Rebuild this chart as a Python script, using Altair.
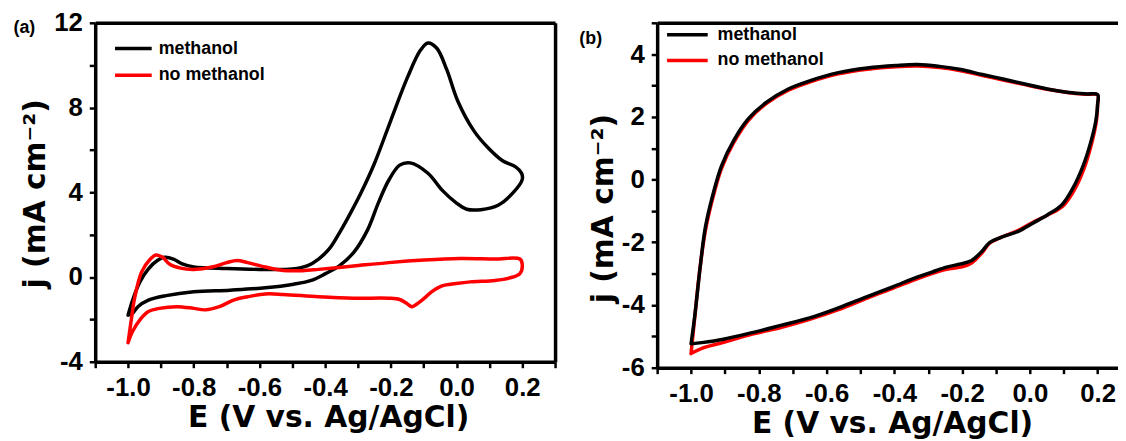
import altair as alt
import pandas as pd

# ---------------- data ----------------
SERIES = ["methanol", "no methanol"]
COLORS = ["#000000", "#ff0000"]

# panel (a): methanol (black)
A_METH_E = [-1.000, -0.986, -0.964, -0.938, -0.911, -0.889, -0.862, -0.835, -0.800, -0.700,
            -0.600, -0.500, -0.453, -0.420, -0.389, -0.356, -0.320, -0.290, -0.250, -0.200,
            -0.150, -0.110, -0.087, -0.060, -0.030, 0.004, 0.053, 0.096, 0.139, 0.180,
            0.198, 0.200, 0.171, 0.128, 0.074, 0.031, -0.001, -0.044, -0.087, -0.141,
            -0.173, -0.206, -0.238, -0.270, -0.313, -0.356, -0.400, -0.442, -0.496, -0.582,
            -0.690, -0.800, -0.884, -0.938, -0.970, -0.986, -1.000]
A_METH_J = [-1.80, -1.09, -0.23, 0.39, 0.78, 0.93, 0.85, 0.62, 0.48, 0.40,
            0.36, 0.38, 0.54, 0.85, 1.30, 2.10, 3.10, 4.00, 5.36, 7.40,
            9.40, 10.70, 11.05, 10.80, 9.80, 8.30, 6.90, 6.10, 5.50, 5.20,
            4.90, 4.60, 3.96, 3.40, 3.18, 3.20, 3.50, 4.10, 4.90, 5.39,
            5.28, 4.58, 3.50, 2.25, 1.16, 0.54, 0.15, -0.16, -0.34, -0.51,
            -0.62, -0.70, -0.88, -1.09, -1.40, -1.71, -1.80]

# panel (a): no methanol (red)
A_NOMETH_E = [-1.000, -0.990, -0.980, -0.959, -0.932, -0.915, -0.895, -0.873, -0.840, -0.800,
              -0.744, -0.700, -0.668, -0.636, -0.582, -0.528, -0.470, -0.420, -0.313, -0.206,
              -0.098, 0.010, 0.117, 0.193, 0.200, 0.193, 0.160, 0.117, 0.042, -0.001,
              -0.044, -0.076, -0.098, -0.125, -0.136, -0.152, -0.173, -0.206, -0.313, -0.420,
              -0.528, -0.582, -0.636, -0.679, -0.722, -0.765, -0.800, -0.851, -0.905, -0.938,
              -0.964, -0.986, -1.000]
A_NOMETH_J = [-3.10, -2.00, -1.00, 0.23, 0.85, 1.04, 0.93, 0.60, 0.42, 0.36,
              0.47, 0.68, 0.78, 0.68, 0.47, 0.31, 0.30, 0.36, 0.52, 0.68,
              0.80, 0.87, 0.85, 0.85, 0.60, 0.16, -0.05, -0.16, -0.23, -0.31,
              -0.42, -0.70, -1.00, -1.32, -1.40, -1.24, -1.06, -1.00, -1.00, -0.93,
              -0.82, -0.80, -0.93, -1.09, -1.40, -1.55, -1.48, -1.40, -1.48, -1.63,
              -2.02, -2.56, -3.10]

# panel (b): methanol (black)
B_METH_E = [-1.000, -0.989, -0.973, -0.958, -0.936, -0.910, -0.873, -0.830, -0.777, -0.713,
            -0.650, -0.565, -0.480, -0.395, -0.331, -0.267, -0.204, -0.140, -0.076, -0.012,
            0.051, 0.115, 0.168, 0.200, 0.200, 0.195, 0.179, 0.157, 0.126, 0.094,
            0.051, 0.009, -0.034, -0.087, -0.119, -0.140, -0.172, -0.204, -0.246, -0.289,
            -0.331, -0.405, -0.480, -0.565, -0.650, -0.735, -0.819, -0.904, -0.968, -1.000]
B_METH_J = [-5.24, -4.35, -2.79, -1.54, -0.50, 0.44, 1.27, 1.95, 2.47, 2.89,
            3.15, 3.41, 3.56, 3.64, 3.67, 3.61, 3.51, 3.35, 3.20, 3.04,
            2.89, 2.78, 2.73, 2.71, 2.42, 1.90, 1.17, 0.44, -0.29, -0.81,
            -1.13, -1.39, -1.65, -1.85, -2.01, -2.27, -2.58, -2.69, -2.79, -2.95,
            -3.10, -3.42, -3.73, -4.09, -4.41, -4.65, -4.88, -5.09, -5.20, -5.24]

# panel (b): no methanol (red)
B_NOMETH_E = [-1.000, -0.990, -0.975, -0.958, -0.936, -0.910, -0.873, -0.830, -0.777, -0.713,
              -0.650, -0.565, -0.480, -0.395, -0.331, -0.267, -0.204, -0.140, -0.076, -0.012,
              0.051, 0.115, 0.168, 0.200, 0.200, 0.196, 0.181, 0.160, 0.130, 0.097,
              0.053, 0.009, -0.034, -0.087, -0.119, -0.140, -0.172, -0.204, -0.246, -0.289,
              -0.331, -0.405, -0.480, -0.565, -0.650, -0.735, -0.819, -0.904, -0.968, -1.000]
B_NOMETH_J = [-5.55, -4.50, -2.95, -1.65, -0.60, 0.36, 1.20, 1.90, 2.43, 2.85,
              3.11, 3.37, 3.52, 3.60, 3.62, 3.57, 3.47, 3.32, 3.17, 3.02,
              2.88, 2.77, 2.72, 2.70, 2.40, 1.85, 1.10, 0.36, -0.35, -0.85,
              -1.13, -1.36, -1.62, -1.85, -2.03, -2.32, -2.66, -2.79, -2.86, -3.00,
              -3.16, -3.47, -3.78, -4.15, -4.46, -4.72, -4.93, -5.19, -5.38, -5.55]

# axis tick positions
A_X_TICKS = [-1.1, -1.0, -0.9, -0.8, -0.7, -0.6, -0.5, -0.4, -0.3, -0.2, -0.1, 0.0, 0.1, 0.2, 0.3]
A_Y_TICKS = [-4, -2, 0, 2, 4, 6, 8, 10, 12]
B_X_TICKS = [-1.1, -1.0, -0.9, -0.8, -0.7, -0.6, -0.5, -0.4, -0.3, -0.2, -0.1, 0.0, 0.1, 0.2]
B_Y_TICKS = [-6, -5, -4, -3, -2, -1, 0, 1, 2, 3, 4, 5]

X_TITLE = "E (V vs. Ag/AgCl)"
Y_TITLE = "j (mA cm\u207b\u00b2)"
FONT = "Liberation Sans"
TFONT = "DejaVu Sans"


def series_frame(E, J, name):
    return pd.DataFrame({"E": E, "j": J, "series": name, "i": list(range(len(E)))})


X_EXPR = ("abs(round(datum.value*10)) % 2 == 0 ? "
          "(datum.value < -0.001 ? '-' + format(-datum.value, '.1f') : format(abs(datum.value), '.1f')) : ''")


def y_expr(step):
    return (f"datum.value % {step} == 0 ? "
            "(datum.value < 0 ? '-' + format(-datum.value, 'd') : format(datum.value, 'd')) : ''")


def panel(df, xdom, ydom, xticks, yticks, ystep, w, h, label, lab_x, lab_y,
          xt_x, yt_y, lx, ly, lsize, loff, lrow, right_border):
    xs = alt.Scale(domain=xdom, nice=False, zero=False)
    ys = alt.Scale(domain=ydom, nice=False, zero=False)
    color = alt.Color(
        "series:N",
        scale=alt.Scale(domain=SERIES, range=COLORS),
        legend=alt.Legend(
            title=None, orient="none", legendX=lx, legendY=ly,
            symbolType="stroke", symbolSize=lsize, symbolStrokeWidth=3.5,
            clipHeight=20, rowPadding=lrow, labelOffset=loff, padding=0,
            labelFont=FONT, labelFontSize=18, labelFontWeight="bold", labelColor="black",
        ),
    )
    lines = alt.Chart(df).mark_line(
        strokeWidth=3.5, interpolate="catmull-rom", strokeJoin="round", strokeCap="round"
    ).encode(
        x=alt.X("E:Q", scale=xs, axis=alt.Axis(values=xticks, labelExpr=X_EXPR, title=X_TITLE,
                                               orient="bottom", titleX=xt_x, titlePadding=2)),
        y=alt.Y("j:Q", scale=ys, axis=alt.Axis(values=yticks, labelExpr=y_expr(ystep), title=Y_TITLE,
                                               orient="left", titleY=yt_y, titlePadding=3)),
        color=color,
        order=alt.Order("i:Q"),
    )
    yb = alt.Axis(orient="right", labels=False, ticks=False, title=None) if right_border else None
    border = alt.Chart(df).mark_line(strokeOpacity=0).encode(
        x=alt.X("E:Q", scale=xs, axis=alt.Axis(
            orient="top", labels=False, ticks=False, title=label,
            titleX=lab_x, titleY=lab_y, titleAlign="left", titleBaseline="top", titleAngle=0,
            titleFont=FONT, titleFontSize=18, titleFontWeight="bold")),
        y=alt.Y("j:Q", scale=ys, axis=yb),
        detail="series:N",
        order=alt.Order("i:Q"),
    )
    return alt.layer(lines, border).resolve_axis(x="independent", y="independent").properties(
        width=w, height=h,
    )


df_a = pd.concat([series_frame(A_METH_E, A_METH_J, SERIES[0]),
                  series_frame(A_NOMETH_E, A_NOMETH_J, SERIES[1])], ignore_index=True)
df_b = pd.concat([series_frame(B_NOMETH_E, B_NOMETH_J, SERIES[1]),
                  series_frame(B_METH_E, B_METH_J, SERIES[0])], ignore_index=True)

pa = panel(df_a, [-1.1, 0.3], [-4, 12], A_X_TICKS, A_Y_TICKS, 4, 464, 342, "(a)", -83, -4,
           235, 172, 18, 16, 1369, 5, 7, True)
pb = panel(df_b, [-1.1, 0.26], [-6, 5], B_X_TICKS, B_Y_TICKS, 2, 465, 348, "(b)", -79, 7,
           237, 187, 8, 2, 1681, 8, 6, False)

chart = alt.hconcat(pa, pb, spacing=22).resolve_scale(color="independent").properties(
    padding={"left": 5, "top": 0, "right": 0, "bottom": 0}
).configure_view(stroke=None).configure_axis(
    grid=False, domainColor="black", domainWidth=3.5, tickColor="black", tickWidth=2.5,
    tickSize=6, labelFont=FONT, labelFontWeight="bold", labelFontSize=26, labelColor="black",
    labelPadding=7, titleFont=TFONT, titleFontWeight="bold", titleFontSize=30, titleColor="black",
    titlePadding=0,
)

chart.save("out.html", embed_options={"renderer": "svg", "actions": False})
